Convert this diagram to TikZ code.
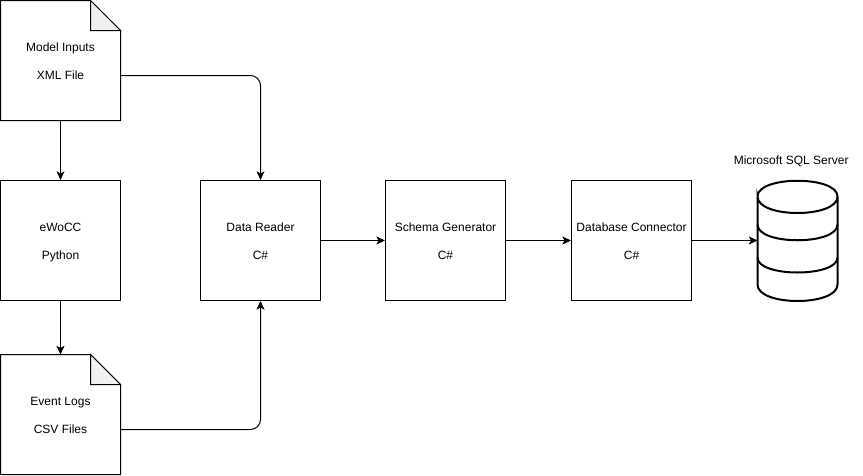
\documentclass[tikz,border=0pt]{standalone}
\usepackage{fontspec}
\setmainfont{Liberation Sans}
\usepackage{tikz}
\usetikzlibrary{arrows.meta, positioning}
\definecolor{foldgray}{HTML}{F0F0F0}
\newcommand{\twolines}[2]{\begin{tabular}{@{}c@{}}\rule{0pt}{10.35pt}#1\\ \\#2\end{tabular}}
\tikzstyle{process} = [rectangle, minimum width=90pt, minimum height=90pt, text centered, draw=black, line width=0.75pt, inner sep=0pt]
\tikzstyle{note} = [rectangle, minimum width=90pt, minimum height=90pt, text centered, inner sep=0pt, outer sep=0pt]
\tikzstyle{store} = [rectangle, minimum width=60pt, minimum height=90pt, inner sep=0pt, outer sep=0pt]
\tikzstyle{caption} = [rectangle, inner sep=0pt]
\tikzstyle{arrow} = [line width=0.75pt,-{Stealth[length=6.5pt,width=6pt,inset=1.6pt]}]
\tikzstyle{roundarrow} = [arrow, rounded corners=7.5pt]
\tikzstyle{outline} = [draw=black, line width=0.75pt, line join=miter]
\tikzstyle{dbline} = [draw=black, line width=1.5pt]

\begin{document}
\begin{tikzpicture}[x=0.75pt, y=-0.75pt, node distance=135pt, font=\fontsize{9}{10.5}\selectfont]
	\useasboundingbox (0,0) rectangle (863,475);

	% left column
	\node (inputs) [note] at (60.5,60.5) {\twolines{Model Inputs}{XML File}};
	\node (ewocc) [process, below of=inputs] {\twolines{eWoCC}{Python}};
	\node (logs) [note, below of=ewocc, node distance=130.5pt] {\twolines{Event Logs}{CSV Files}};

	% main row
	\node (reader) [process, right of=ewocc, node distance=150pt] {\twolines{Data Reader}{C\#}};
	\node (schema) [process, right of=reader, node distance=138.75pt] {\twolines{Schema Generator}{C\#}};
	\node (connector) [process, right of=schema, node distance=139.5pt] {\twolines{Database Connector}{C\#}};
	\node (database) [store, right of=connector, node distance=124.5pt] {};
	\node (sqlserver) [caption, above of=database, node distance=59.25pt, xshift=-4.75pt] {Microsoft SQL Server};

	% folded corners
	\foreach \doc in {inputs,logs} {
		\draw [outline, line join=bevel] (\doc.north west) -- ([xshift=-22.5pt]\doc.north east) -- ([yshift=-22.5pt]\doc.north east) -- (\doc.south east) -- (\doc.south west) -- cycle;
		\draw [outline, fill=foldgray] ([xshift=-22.5pt]\doc.north east) -- ([xshift=-22.5pt,yshift=-22.5pt]\doc.north east) -- ([yshift=-22.5pt]\doc.north east) -- cycle;
	}

	% database
	\begin{scope}[shift={(database.center)}]
		\draw [dbline] (-40,-44) .. controls (-40,-65) and (40,-65) .. (40,-44) .. controls (40,-22) and (-40,-22) .. (-40,-44) -- (-40,44) .. controls (-40,66) and (40,66) .. (40,44) -- (40,-44);
		\draw [dbline] (-40,-16) .. controls (-40,5) and (40,5) .. (40,-16);
		\draw [dbline] (-40,17) .. controls (-40,37) and (40,37) .. (40,17);
	\end{scope}

	\coordinate (inputsout) at ([yshift=-11.25pt]inputs.east);
	\coordinate (logsout) at ([yshift=-11.25pt]logs.east);

	\draw [arrow] (inputs) -- (ewocc);
	\draw [arrow] (ewocc) -- (logs);
	\draw [roundarrow] (inputsout) -| (reader);
	\draw [roundarrow] (logsout) -| (reader);
	\draw [arrow] (reader) -- (schema);
	\draw [arrow] (schema) -- (connector);
	\draw [arrow] (connector) -- (database);
\end{tikzpicture}
\end{document}
